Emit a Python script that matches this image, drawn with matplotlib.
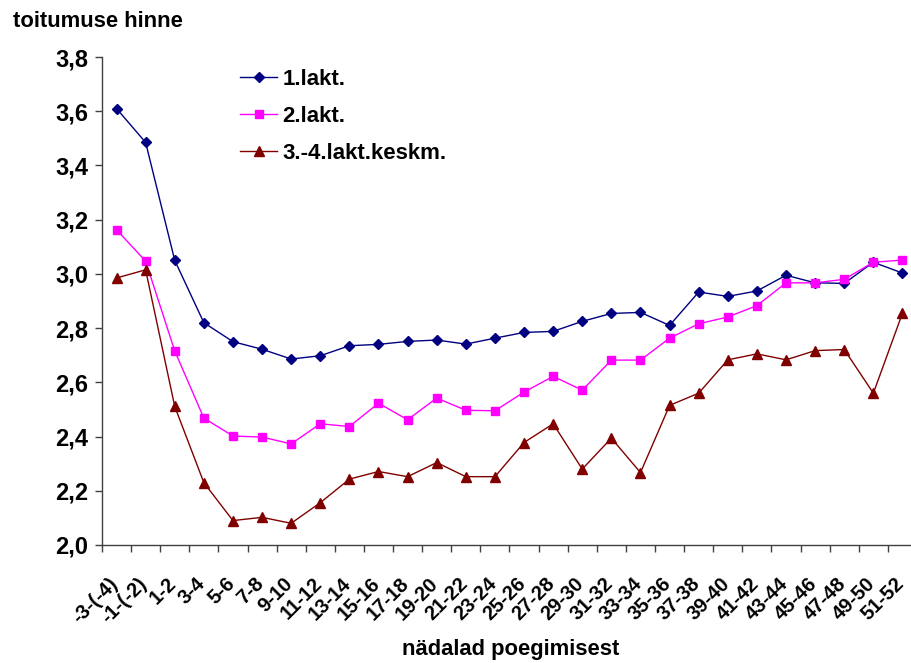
import matplotlib
matplotlib.use('Agg')
import matplotlib.pyplot as plt
import numpy as np
from matplotlib.ticker import FuncFormatter, FixedLocator
from matplotlib.transforms import ScaledTranslation

plt.rcParams['font.family'] = ['Liberation Sans', 'DejaVu Sans']
plt.rcParams['font.weight'] = 'bold'

weeks = ['-3-(-4)', '-1-(-2)', '1-2', '3-4', '5-6', '7-8', '9-10', '11-12', '13-14',
         '15-16', '17-18', '19-20', '21-22', '23-24', '25-26', '27-28', '29-30',
         '31-32', '33-34', '35-36', '37-38', '39-40', '41-42', '43-44', '45-46',
         '47-48', '49-50', '51-52']

lakt1 = [3.61, 3.485, 3.05, 2.82, 2.75, 2.722, 2.686, 2.698, 2.735, 2.74, 2.751,
         2.756, 2.741, 2.763, 2.784, 2.788, 2.825, 2.854, 2.858, 2.81, 2.933,
         2.917, 2.937, 2.995, 2.967, 2.965, 3.043, 3.003]
lakt2 = [3.163, 3.047, 2.716, 2.468, 2.402, 2.398, 2.373, 2.447, 2.437, 2.523,
         2.462, 2.542, 2.497, 2.495, 2.564, 2.622, 2.571, 2.682, 2.682, 2.763,
         2.816, 2.841, 2.883, 2.967, 2.967, 2.98, 3.043, 3.051]
lakt34 = [2.985, 3.015, 2.511, 2.23, 2.09, 2.102, 2.08, 2.156, 2.243, 2.271,
          2.252, 2.304, 2.252, 2.252, 2.378, 2.447, 2.28, 2.394, 2.267, 2.515,
          2.56, 2.683, 2.705, 2.683, 2.717, 2.721, 2.56, 2.855]

fig = plt.figure(figsize=(9.12, 6.63), dpi=100)
ax = fig.add_axes([0.1118, 0.178, 0.8937, 0.736])

x = np.arange(len(weeks))
ax.plot(x, lakt1, color='#000080', lw=1.0, marker='D', ms=5, label='1.lakt.')
ax.plot(x, lakt2, color='#FF00FF', lw=1.0, marker='s', ms=6.2, label='2.lakt.')
ax.plot(x, lakt34, color='#800000', lw=1.0, marker='^', ms=6.8, label='3.-4.lakt.keskm.')

ax.set_xlim(-0.5, len(weeks) - 0.5)
ax.set_ylim(2.0, 3.8)
ax.set_yticks(np.arange(2.0, 3.81, 0.2))
ax.yaxis.set_major_formatter(FuncFormatter(lambda v, p: f'{v:.1f}'.replace('.', ',')))
ax.tick_params(axis='y', labelsize=17, length=5, width=1, color='#404040', pad=5)

ax.set_xticks(x)
ax.set_xticklabels(weeks, rotation=45, ha='right', va='top', rotation_mode='anchor', fontsize=14.5)
ax.tick_params(axis='x', which='major', length=0, pad=21)
ax.xaxis.set_minor_locator(FixedLocator(np.arange(-0.5, len(weeks), 1)))
ax.tick_params(axis='x', which='minor', length=5, width=1, color='#404040')
shift = ScaledTranslation(-8 / 100, 0, fig.dpi_scale_trans)
for lab in ax.get_xticklabels():
    lab.set_transform(lab.get_transform() + shift)

for s in ['top', 'right']:
    ax.spines[s].set_visible(False)
for s in ['left', 'bottom']:
    ax.spines[s].set_color('#404040')
    ax.spines[s].set_linewidth(1)

fig.text(0.014, 0.967, 'toitumuse hinne', fontsize=15.8, fontweight='bold', va='center')
fig.text(0.56, 0.02, 'nädalad poegimisest', fontsize=15.8, fontweight='bold', ha='center', va='center')

ax.legend(loc='upper left', bbox_to_anchor=(0.1448, 1.016), frameon=False, fontsize=16,
          handlelength=1.67, labelspacing=0.71, handletextpad=0.25)

fig.savefig('out.png', dpi=100)
